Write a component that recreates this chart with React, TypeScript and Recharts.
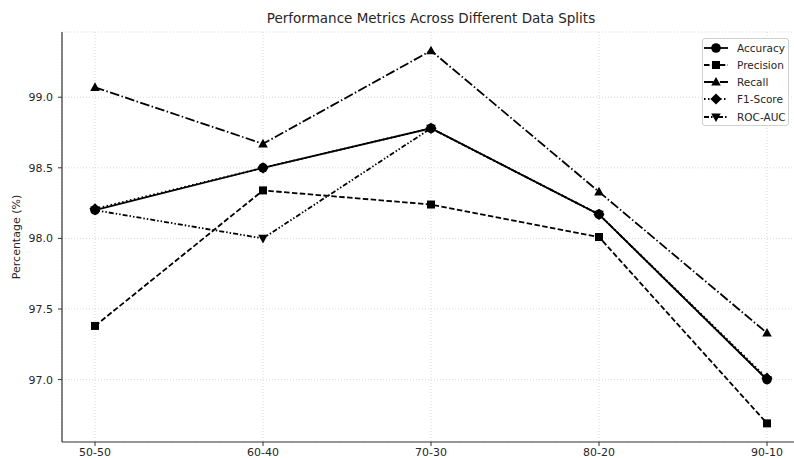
import React from 'react';
import { LineChart, Line, XAxis, YAxis, CartesianGrid } from 'recharts';

const splits = ['50-50', '60-40', '70-30', '80-20', '90-10'];
const accuracy = [98.2, 98.5, 98.78, 98.17, 97.0];
const precision = [97.38, 98.34, 98.24, 98.01, 96.69];
const recall = [99.07, 98.67, 99.33, 98.33, 97.33];
const f1Score = [98.21, 98.5, 98.78, 98.17, 97.01];
const rocAuc = [98.2, 98.0, 98.78, 98.17, 97.0];
const yTicks = [97.0, 97.5, 98.0, 98.5, 99.0];

const series = [
  { key: 'accuracy', name: 'Accuracy', values: accuracy, dash: undefined, shape: 'circle' },
  { key: 'precision', name: 'Precision', values: precision, dash: '5.5 2.4', shape: 'square' },
  { key: 'recall', name: 'Recall', values: recall, dash: '9.6 2.4 1.5 2.4', shape: 'triangle' },
  { key: 'f1', name: 'F1-Score', values: f1Score, dash: '1.5 2.5', shape: 'diamond' },
  { key: 'roc', name: 'ROC-AUC', values: rocAuc, dash: '5 2 1.5 2 1.5 2', shape: 'triangleDown' },
];

const chartData = splits.map((split, i) => {
  const row: Record<string, string | number> = { split };
  series.forEach(s => { row[s.key] = s.values[i]; });
  return row;
});

const FONT = '"DejaVu Sans", sans-serif';
const TEXT = '#262626';

const Marker = ({ shape, cx, cy }: { shape: string; cx: number; cy: number }) => {
  if (cx == null || cy == null) return null;
  switch (shape) {
    case 'circle':
      return <circle cx={cx} cy={cy} r={4.8} fill="#000" />;
    case 'square':
      return <rect x={cx - 4} y={cy - 4} width={8} height={8} fill="#000" />;
    case 'triangle':
      return <polygon points={`${cx},${cy - 5} ${cx - 4.8},${cy + 3.6} ${cx + 4.8},${cy + 3.6}`} fill="#000" />;
    case 'diamond':
      return <polygon points={`${cx},${cy - 5.6} ${cx + 5.6},${cy} ${cx},${cy + 5.6} ${cx - 5.6},${cy}`} fill="#000" />;
    default:
      return <polygon points={`${cx},${cy + 5} ${cx - 4.8},${cy - 3.6} ${cx + 4.8},${cy - 3.6}`} fill="#000" />;
  }
};

const LegendBox = () => (
  <div
    style={{
      position: 'absolute', left: 702, top: 38, width: 87, height: 88,
      border: '1px solid #d0d0d0', borderRadius: 3, background: 'rgba(255,255,255,0.85)',
      boxSizing: 'border-box',
    }}
  >
    {series.map((s, i) => (
      <div key={s.key} style={{ position: 'absolute', left: 0, top: 0 + i * 17.3, height: 17, display: 'flex', alignItems: 'center' }}>
        <svg width={26} height={14}>
          <line x1={1} y1={7} x2={25} y2={7} stroke="#000" strokeWidth={1.8} strokeDasharray={s.dash} />
          <Marker shape={s.shape} cx={13} cy={7} />
        </svg>
        <span style={{ marginLeft: 8, fontSize: 10.5, color: TEXT, fontFamily: FONT, whiteSpace: 'nowrap' }}>{s.name}</span>
      </div>
    ))}
  </div>
);

export default function App() {
  return (
    <div style={{ position: 'relative', width: 794, height: 458, overflow: 'hidden', background: '#fff', fontFamily: FONT }}>
      <style>{'body{margin:0}'}</style>
      <div style={{ position: 'absolute', left: 431, top: 10, transform: 'translateX(-50%)', fontSize: 13.5, color: TEXT, whiteSpace: 'nowrap' }}>
        Performance Metrics Across Different Data Splits
      </div>
      <div style={{ position: 'absolute', left: 16, top: 237, transform: 'translate(-50%, -50%) rotate(-90deg)', fontSize: 11, color: TEXT, whiteSpace: 'nowrap' }}>
        Percentage (%)
      </div>
      <LineChart width={802} height={458} data={chartData} margin={{ top: 32, right: 2, bottom: 0, left: 0 }}>
        <CartesianGrid stroke="#cfcfcf" strokeDasharray="1 2" strokeWidth={0.8} />
        <XAxis
          dataKey="split"
          height={16}
          padding={{ left: 33, right: 33 }}
          tick={{ fontSize: 11, fill: TEXT, fontFamily: FONT }}
          tickSize={4}
          tickMargin={2}
          tickLine={{ stroke: '#333' }}
          axisLine={{ stroke: '#333', strokeWidth: 1.2 }}
          interval={0}
        />
        <XAxis
          xAxisId="top"
          orientation="top"
          dataKey="split"
          height={0}
          tick={false}
          tickLine={false}
          axisLine={{ stroke: '#333', strokeWidth: 1.2 }}
        />
        <YAxis
          width={62}
          domain={[96.558, 99.462]}
          allowDataOverflow
          ticks={yTicks}
          tickFormatter={(v: number) => v.toFixed(1)}
          tick={{ fontSize: 11, fill: TEXT, fontFamily: FONT }}
          tickSize={4}
          tickMargin={5}
          tickLine={{ stroke: '#333' }}
          axisLine={{ stroke: '#333', strokeWidth: 1.2 }}
        />
        {series.map(s => (
          <Line
            key={s.key}
            type="linear"
            dataKey={s.key}
            name={s.name}
            stroke="#000"
            strokeWidth={1.8}
            strokeDasharray={s.dash}
            dot={(p: any) => (
              <g key={`${s.key}-${p.index}`}>
                <Marker shape={s.shape} cx={p.cx} cy={p.cy} />
              </g>
            )}
            activeDot={false}
            isAnimationActive={false}
          />
        ))}
      </LineChart>
      <LegendBox />
    </div>
  );
}
